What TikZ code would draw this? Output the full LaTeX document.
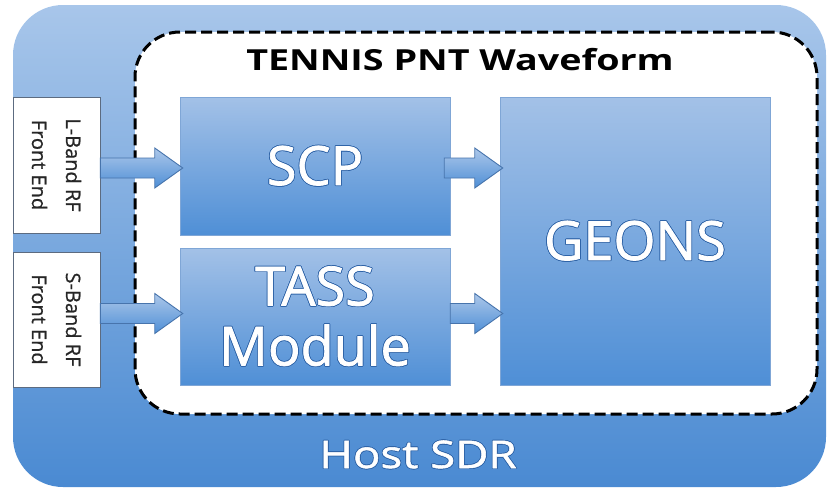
\documentclass[tikz,border=0pt]{standalone}
\usepackage{fontspec}
\setmainfont{Open Sans}
\newfontfamily\widefont[FakeStretch=1.3]{Open Sans}
\newfontfamily\semifont[FakeBold=1.4]{Open Sans}
\newfontfamily\semiwide[FakeBold=1.4,FakeStretch=1.2]{Open Sans}
\newfontfamily\fefont[FakeBold=0.8]{Open Sans}
\usepackage{contour}
\contourlength{0.7pt}
\usetikzlibrary{calc}
\definecolor{hostTop}{HTML}{A8C6EA}
\definecolor{hostBot}{HTML}{4A8AD2}
\definecolor{boxTop}{HTML}{A3C1E7}
\definecolor{boxBot}{HTML}{4F8FD6}
\definecolor{boxEdge}{HTML}{7FA6D6}
\definecolor{arrowEdge}{HTML}{4774AC}
\definecolor{feEdge}{HTML}{5C6B80}
\definecolor{textEdge}{HTML}{2F64A8}

\begin{document}
\begin{tikzpicture}[x=1pt,y=-1pt,
  blk/.style={top color=boxTop, bottom color=boxBot, draw=boxEdge, line width=0.5pt,
    minimum width=270pt, inner sep=0pt, text=white, align=center,
    font=\semifont\fontsize{54}{60}\selectfont},
  fe/.style={draw=feEdge, fill=white, line width=0.8pt, minimum width=87pt, inner sep=0pt},
  felabel/.style={rotate=-90, align=center, text=black!85, font=\fefont\fontsize{20}{34}\selectfont},
  blockarrow/.style={draw=arrowEdge, line width=0.9pt, top color=boxTop!90!white, bottom color=boxBot,
    to path={let \p1=(\tikztostart), \p2=(\tikztotarget) in
      (\x1,\y1+10pt) -- (\x2-25pt,\y1+10pt) -- (\x2-25pt,\y1+20pt) -- (\x2+3pt,\y1)
      -- (\x2-25pt,\y1-20pt) -- (\x2-25pt,\y1-10pt) -- (\x1,\y1-10pt) -- cycle}}]
  \useasboundingbox (0,0) rectangle (831,490);
  % host radio and waveform frame
  \node[top color=hostTop, bottom color=hostBot, rounded corners=50pt,
    minimum width=813pt, minimum height=482pt, inner sep=0pt] (host) at (419.5,246) {};
  \node[draw=black, fill=white, line width=3pt, dash pattern=on 11pt off 5pt, rounded corners=45pt,
    minimum width=682pt, minimum height=382pt, inner sep=0pt] (frame) at (476,223) {};
  \node[anchor=base, font=\widefont\bfseries\fontsize{29}{34}\selectfont] (title) at (460,70) {TENNIS PNT Waveform};
  \node[anchor=base, text=white, font=\semiwide\fontsize{38}{42}\selectfont] (hostlbl) at (418,468) {\contour{textEdge}{Host SDR}};

  % processing blocks
  \node[blk, minimum height=138pt] (scp) at (315,166) {\contour{textEdge}{SCP}};
  \node[blk, minimum height=137pt] (tass) at (315,316.5) {\contour{textEdge}{TASS}\\\contour{textEdge}{Module}};
  \node[blk, minimum height=288pt] (geons) at (635,241) {\contour{textEdge}{GEONS}};

  % RF front ends
  \node[fe, minimum height=136pt] (lband) at (56.5,165) {};
  \node[felabel] at (lband) {L-Band RF\\Front End};
  \node[fe, minimum height=135pt] (sband) at (56.5,319.5) {};
  \node[felabel] at (sband) {S-Band RF\\Front End};

  \draw[blockarrow] ($(lband.east)+(0,3)$) to (scp.west);
  \draw[blockarrow] ($(sband.east)+(0,-6)$) to (tass.west);
  \draw[blockarrow] ($(scp.east)+(-6,2)$) to (geons.west);
  \draw[blockarrow] ($(tass.east)+(0,-3)$) to (geons.west);
\end{tikzpicture}
\end{document}
